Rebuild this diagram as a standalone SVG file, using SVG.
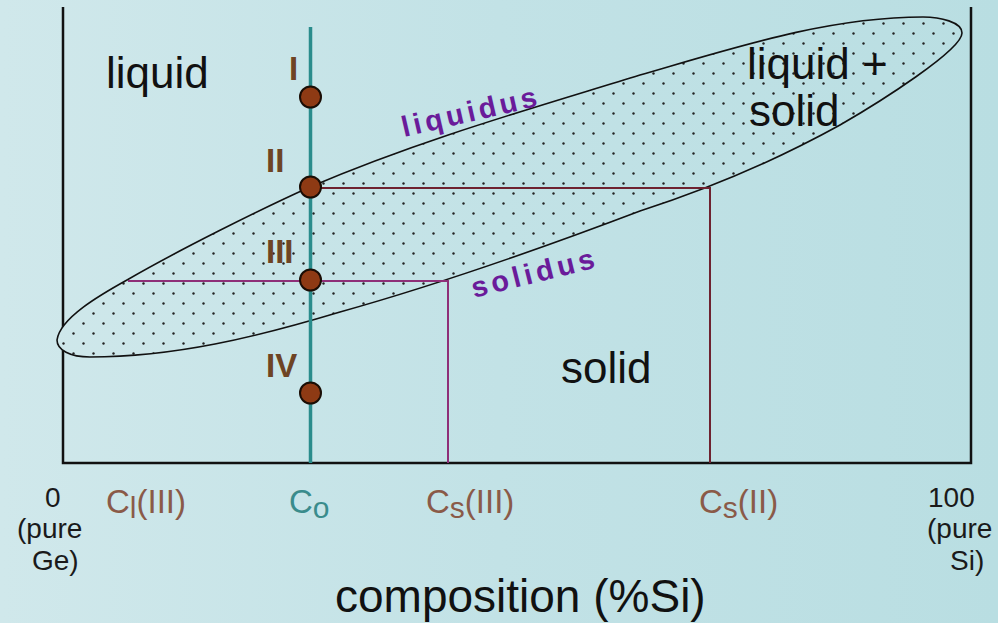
<svg xmlns="http://www.w3.org/2000/svg" width="998" height="623" viewBox="0 0 998 623">
  <defs>
    <linearGradient id="bg" x1="0" y1="0" x2="998" y2="0" gradientUnits="userSpaceOnUse">
      <stop offset="0" stop-color="#d0e8eb"/>
      <stop offset="0.5" stop-color="#c2e2e6"/>
      <stop offset="1" stop-color="#b9dee2"/>
    </linearGradient>
    <pattern id="dots" width="20" height="20" patternUnits="userSpaceOnUse">
      <circle cx="3.5" cy="3.5" r="1.2" fill="#222"/>
      <circle cx="13.5" cy="13.5" r="1.2" fill="#222"/>
    </pattern>
    <style>
      .sans { font-family: "Liberation Sans", Arial, sans-serif; }
      .region { font-size: 44px; fill: #111; }
      .roman { font-size: 33px; font-weight: bold; fill: #6e4424; }
      .curve { font-size: 29px; font-weight: bold; fill: #6a1b9a; }
      .clab { font-size: 33px; fill: #8a5a48; }
      .sub { font-size: 30px; }
      .end { font-size: 28px; fill: #1a1a1a; }
      .axis { fill: none; stroke: #111; stroke-width: 2.5; }
      .tie2 { fill: none; stroke: #6e2230; stroke-width: 2; }
      .tie3 { fill: none; stroke: #8e2f78; stroke-width: 2; }
      .co { stroke: #2a8c8c; stroke-width: 3.5; }
      .pt { fill: #8e3a14; stroke: #1a0d05; stroke-width: 2; }
    </style>
  </defs>

  <rect x="0" y="0" width="998" height="623" fill="url(#bg)"/>

  <g id="axes">
    <path class="axis" d="M63,7 V463 H971 V7"/>
  </g>

  <g id="two-phase-region">
    <path id="lens" d="M57,340 C60,318 100,295 127,280 C177,251 260,209.5 310,187 C420,140 530,109 640,75 C735,47.5 828,17 923,17 C940,17 962,22 962,33 C962,50 880,102 840,125 C773,162 705,190 640,211 C545,247 440,284 340,312 C255,337.5 175,357 90,357 C70,357 57,350 57,340 Z" fill="url(#bg)"/>
    <path d="M57,340 C60,318 100,295 127,280 C177,251 260,209.5 310,187 C420,140 530,109 640,75 C735,47.5 828,17 923,17 C940,17 962,22 962,33 C962,50 880,102 840,125 C773,162 705,190 640,211 C545,247 440,284 340,312 C255,337.5 175,357 90,357 C70,357 57,350 57,340 Z" fill="url(#dots)" stroke="#111" stroke-width="1.6"/>
  </g>

  <g id="connectors">
    <path class="tie2" d="M310,188 H710 V463"/>
    <path class="tie3" d="M128,281 H448 V463"/>
    <line class="co" x1="310.5" y1="27" x2="310.5" y2="463"/>
  </g>

  <g id="point-I"><circle class="pt" cx="310.5" cy="97" r="10.5"/><text class="sans roman" x="289" y="80">I</text></g>
  <g id="point-II"><circle class="pt" cx="310.5" cy="187" r="10.5"/><text class="sans roman" x="266" y="172">II</text></g>
  <g id="point-III"><circle class="pt" cx="310.5" cy="280" r="10.5"/><text class="sans roman" x="266" y="263">III</text></g>
  <g id="point-IV"><circle class="pt" cx="310.5" cy="393" r="10.5"/><text class="sans roman" x="266" y="377">IV</text></g>

  <g id="region-labels">
    <text class="sans region" x="106" y="88">liquid</text>
    <text class="sans region" x="747" y="79">liquid +</text>
    <text class="sans region" x="749" y="126">solid</text>
    <text class="sans region" x="561" y="383">solid</text>
  </g>

  <g id="curve-labels">
    <text class="sans curve" x="404" y="137" textLength="138" lengthAdjust="spacing" transform="rotate(-13 404 137)">liquidus</text>
    <text class="sans curve" x="474" y="298" textLength="126" lengthAdjust="spacing" transform="rotate(-14 474 298)">solidus</text>
  </g>

  <g id="axis-labels">
    <text class="sans end" x="45" y="507">0</text>
    <text class="sans end" x="17" y="538">(pure</text>
    <text class="sans end" x="32" y="570">Ge)</text>
    <text class="sans end" x="928" y="507">100</text>
    <text class="sans end" x="927" y="538">(pure</text>
    <text class="sans end" x="950" y="570">Si)</text>
    <text class="sans clab" x="106" y="513">C<tspan class="sub" dy="5">l</tspan><tspan dy="-5">(III)</tspan></text>
    <text class="sans clab" x="289" y="513" style="fill:#3a8c8c">C<tspan class="sub" dy="5">o</tspan></text>
    <text class="sans clab" x="426" y="513">C<tspan class="sub" dy="5">s</tspan><tspan dy="-5">(III)</tspan></text>
    <text class="sans clab" x="699" y="513">C<tspan class="sub" dy="5">s</tspan><tspan dy="-5">(II)</tspan></text>
    <text class="sans" x="335" y="612" font-size="46" fill="#111">composition (%Si)</text>
  </g>
</svg>
